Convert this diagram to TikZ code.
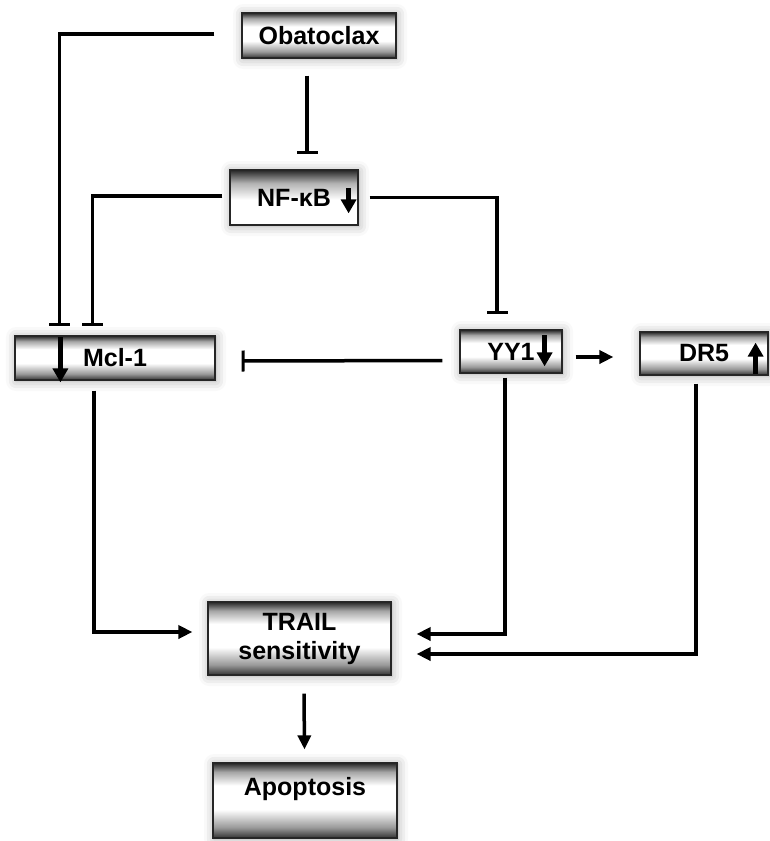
\documentclass[tikz,border=0pt]{standalone}
\usepackage{fontspec}
\setmainfont{Liberation Sans}
\usetikzlibrary{arrows.meta,shadows.blur}
\pgfdeclareverticalshading{tube}{100bp}{color(0bp)=(black!80); color(25bp)=(black!80); color(32bp)=(black!40); color(44bp)=(white); color(60bp)=(white); color(69bp)=(black!35); color(75bp)=(black!85); color(100bp)=(black!85)}
\pgfdeclareverticalshading{halftube}{100bp}{color(0bp)=(white); color(25bp)=(white); color(48bp)=(white); color(63bp)=(black!30); color(75bp)=(black!85); color(100bp)=(black!85)}
\tikzset{
  box/.style={draw=black!85,line width=1.2pt,shade,shading=tube,align=center,inner sep=0pt,
    font=\fontsize{25}{29}\selectfont\bfseries,
    blur shadow={shadow xshift=1pt,shadow yshift=-1pt,shadow blur radius=10pt,shadow opacity=35}},
  inh/.style={-{Bar[width=21pt,line width=3pt]}},
  updown/.style={line width=4.5pt,-{Triangle[length=14pt,width=15pt]}}
}
\begin{document}
\begin{tikzpicture}[x=1pt,y=1pt,>={Triangle[length=14pt,width=13pt]},line width=3.5pt]
\useasboundingbox (0,0) rectangle (769,-841);
\node (obx) at (319,-35.5) [box,minimum width=154pt,minimum height=45pt] {Obatoclax};
\node (nfkb) at (294,-197.5) [box,shading=halftube,minimum width=128pt,minimum height=55pt] {NF-κB};
\node (mcl) at (115,-358) [box,minimum width=200pt,minimum height=44pt] {Mcl-1};
\node (yy1) at (511,-351.5) [box,minimum width=102pt,minimum height=43pt] {YY1};
\node (dr5) at (704,-353.5) [box,minimum width=128pt,minimum height=43pt] {DR5};
\node (trail) at (299.5,-638.5) [box,minimum width=183pt,minimum height=73pt] {TRAIL\\sensitivity};
\node (apop) at (305,-800.5) [box,minimum width=184pt,minimum height=75pt,text height=27pt,text depth=38pt] {Apoptosis};
\draw[updown] ([xshift=-10pt,yshift=-19pt]nfkb.north east) -- ++(0,-25);
\draw[updown] ([xshift=-18pt,yshift=-6pt]yy1.north east) -- ++(0,-31);
\draw[updown] ([xshift=-13pt,yshift=2pt]dr5.south east) -- ++(0,31);
\draw[updown] ([xshift=46pt,yshift=-2pt]mcl.north west) -- ++(0,-45);
\draw[inh] ([xshift=-27pt,yshift=1.5pt]obx.west) -| ([xshift=45pt,yshift=9pt]mcl.north west);
\draw[inh] ([xshift=-12pt,yshift=-17pt]obx.south) -- ([xshift=13pt,yshift=15pt]nfkb.north);
\draw[inh] ([xshift=-7pt,yshift=1.5pt]nfkb.west) -| ([xshift=78pt,yshift=9pt]mcl.north west);
\draw[inh] ([xshift=11pt]nfkb.east) -| ([xshift=-14pt,yshift=15pt]yy1.north);
\draw[inh] ([xshift=-17pt,yshift=-9pt]yy1.west) -- ([xshift=26pt,yshift=-3pt]mcl.east);
\draw[->] ([xshift=13pt,yshift=-5.5pt]yy1.east) -- ([xshift=-26pt,yshift=-3.5pt]dr5.west);
\draw[->] ([xshift=-21pt,yshift=-10pt]mcl.south) |- ([xshift=-15pt,yshift=6.5pt]trail.west);
\draw[->] ([xshift=-6pt,yshift=-4pt]yy1.south) |- ([xshift=25pt,yshift=4.5pt]trail.east);
\draw[->] ([xshift=-8pt,yshift=-8pt]dr5.south) |- ([xshift=25pt,yshift=-15.5pt]trail.east);
\draw[->] ([xshift=4.5pt,yshift=-18pt]trail.south) -- ([xshift=-0.5pt,yshift=13pt]apop.north);
\end{tikzpicture}
\end{document}
